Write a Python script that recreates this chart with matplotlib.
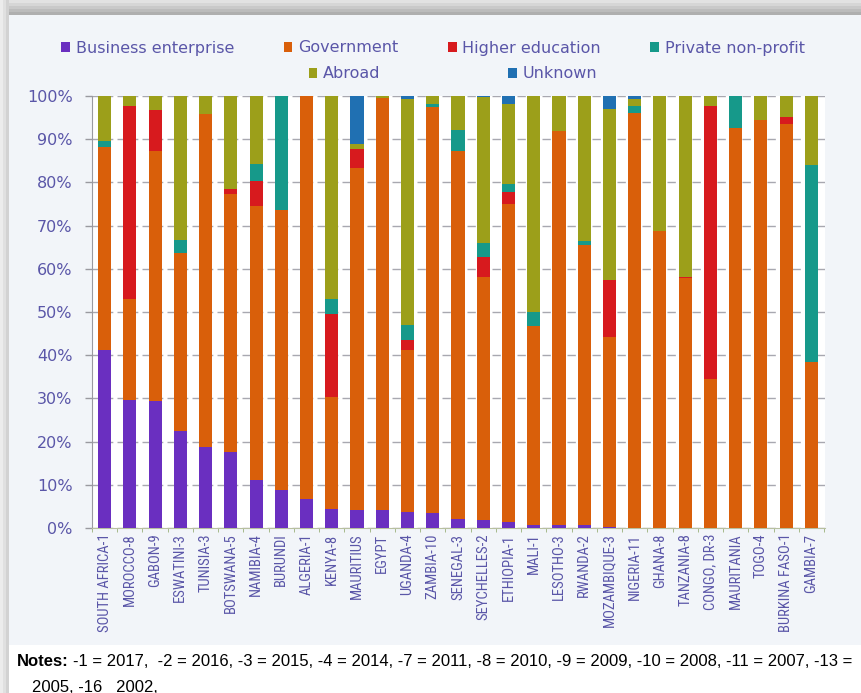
import matplotlib.pyplot as plt
import numpy as np
from matplotlib.patches import Patch, Rectangle
from matplotlib import font_manager

countries = ["SOUTH AFRICA-1", "MOROCCO-8", "GABON-9", "ESWATINI-3", "TUNISIA-3",
             "BOTSWANA-5", "NAMIBIA-4", "BURUNDI", "ALGERIA-1", "KENYA-8",
             "MAURITIUS", "EGYPT", "UGANDA-4", "ZAMBIA-10", "SENEGAL-3",
             "SEYCHELLES-2", "ETHIOPIA-1", "MALI-1", "LESOTHO-3", "RWANDA-2",
             "MOZAMBIQUE-3", "NIGERIA-11", "GHANA-8", "TANZANIA-8", "CONGO, DR-3",
             "MAURITANIA", "TOGO-4", "BURKINA FASO-1", "GAMBIA-7"]

# shares in %
business = [41.2, 29.7, 29.3, 22.5, 18.7, 17.5, 11.2, 8.9, 6.7, 4.4, 4.2, 4.2, 3.7, 3.5,
            2.1, 1.9, 1.4, 0.8, 0.7, 0.6, 0.2, 0, 0, 0, 0, 0, 0, 0, 0]
government = [46.9, 23.3, 57.9, 41.2, 77.2, 59.9, 63.3, 64.8, 93.3, 26.0, 79.2, 95.4, 37.5,
              94.0, 85.2, 56.1, 73.5, 46.0, 91.2, 64.9, 43.9, 96.1, 68.7, 57.8, 34.5,
              92.7, 94.5, 93.6, 38.5]
higher_edu = [0, 44.8, 9.6, 0, 0, 1.0, 5.8, 0, 0, 19.1, 4.3, 0, 2.3, 0, 0, 4.8, 2.9, 0, 0,
              0, 13.3, 0, 0, 0.4, 63.3, 0, 0, 1.5, 0]
private_np = [1.5, 0, 0, 2.9, 0, 0, 3.9, 26.3, 0, 3.4, 0, 0, 3.6, 0.7, 4.8, 3.2, 1.8, 3.3,
              0, 0.9, 0, 1.7, 0, 0, 0, 7.3, 0, 0, 45.5]
abroad = [10.4, 2.2, 3.2, 33.4, 4.1, 21.6, 15.8, 0, 0, 47.1, 1.3, 0.4, 52.1, 1.8, 7.9,
          33.8, 18.6, 49.9, 8.1, 33.6, 39.5, 1.4, 31.3, 41.8, 2.2, 0, 5.5, 4.9, 16.0]
unknown = [0, 0, 0, 0, 0, 0, 0, 0, 0, 0, 11.0, 0, 0.8, 0, 0, 0.2, 1.8, 0, 0, 0, 3.1, 0.8,
           0, 0, 0, 0, 0, 0, 0]

series = [("Business enterprise", business, "#6a2fc0"),
          ("Government", government, "#d95f0a"),
          ("Higher education", higher_edu, "#d71a1e"),
          ("Private non-profit", private_np, "#16998a"),
          ("Abroad", abroad, "#9c9f1a"),
          ("Unknown", unknown, "#2070b2")]

txt = "#5a56a8"
W, H = 862, 693

# pick a narrow face if one is around
installed = {f.name for f in font_manager.fontManager.ttflist}
narrow = None
for fam in ["Liberation Sans Narrow", "DejaVu Sans Condensed", "Roboto Condensed",
            "Open Sans Condensed", "Noto Sans Condensed"]:
    if fam in installed:
        narrow = fam
        break
narrow_fams = [narrow, "DejaVu Sans"] if narrow else ["DejaVu Sans"]
xlab_size = 10.5 if narrow else 8.6
note_fams = ["Liberation Sans", "DejaVu Sans"]

fig = plt.figure(figsize=(W / 100, H / 100), dpi=100)
fig.patch.set_facecolor("white")

def px_rect(x0, y0, x1, y1, color):
    fig.add_artist(Rectangle((x0 / W, 1 - y1 / H), (x1 - x0) / W, (y1 - y0) / H,
                             transform=fig.transFigure, facecolor=color,
                             edgecolor="none", zorder=-10))

# screenshot shadow + panel
for i, c in enumerate(["#e2e2e2", "#d6d6d6", "#c9c9c9", "#bcbcbc", "#afafaf"]):
    px_rect(0, i * 3, W, 15, c)
for i, c in enumerate(["#ececec", "#e0e0e0", "#d2d2d2"]):
    px_rect(i * 3, 0, 9, H, c)
px_rect(9, 15, W, 645, "#f2f5f9")

ax = fig.add_axes([92 / W, 1 - 528 / H, (825 - 92) / W, (528 - 96) / H])
ax.set_facecolor("white")
x = np.arange(len(countries))
bottom = np.zeros(len(countries))
for name, vals, col in series:
    ax.bar(x, vals, 0.52, bottom=bottom, color=col, label=name, zorder=3)
    bottom += np.array(vals)

ax.set_xlim(-0.45, len(countries) - 0.46)
ax.set_ylim(0, 100)
ax.set_yticks(np.arange(0, 101, 10))
ax.set_yticklabels([f"{v}%" for v in range(0, 101, 10)])
ax.yaxis.grid(True, linestyle=(0, (6, 3)), color="#a8a8b0", linewidth=1, zorder=0)
ax.set_xticks(x)
ax.set_xticklabels(countries, rotation=90, family=narrow_fams,
                   fontsize=xlab_size, color=txt)
ax.set_xticks(np.arange(-0.5, len(countries), 1), minor=True)
for s in ["top", "right"]:
    ax.spines[s].set_visible(False)
ax.spines["left"].set_color("#9a9aa0")
ax.spines["bottom"].set_color("#b8c0a0")
ax.tick_params(axis="y", direction="out", length=5, width=1, color="#9a9aa0", pad=9,
               labelsize=11.5, labelcolor=txt)
ax.tick_params(axis="x", which="major", length=0, pad=4)
ax.tick_params(axis="x", which="minor", length=3, color="#9ab07a")

handles = [Patch(facecolor=c, label=n) for n, _, c in series]
leg_kw = dict(frameon=False, handlelength=0.55, handleheight=0.55, handletextpad=0.35,
              fontsize=11.5, labelcolor=txt)
fig.legend(handles=handles[:4], loc="center", bbox_to_anchor=(433 / W, 1 - 48 / H),
           ncol=4, columnspacing=3.1, **leg_kw)
fig.legend(handles=handles[4:], loc="center", bbox_to_anchor=(453 / W, 1 - 74 / H),
           ncol=2, columnspacing=8.0, **leg_kw)

# notes under the panel: bold lead-in, then the rest right after it
t0 = fig.text(17 / W, 1 - 661 / H, "Notes:", fontsize=12, fontweight="bold",
              family=note_fams, va="center")
fig.canvas.draw()
bb = t0.get_window_extent()
fig.text(bb.x1 / W + 4 / W, 1 - 661 / H,
         "-1 = 2017,  -2 = 2016, -3 = 2015, -4 = 2014, -7 = 2011, -8 = 2010, -9 = 2009, "
         "-10 = 2008, -11 = 2007, -13 =", fontsize=12,
         family=note_fams, va="center")
fig.text(32 / W, 1 - 687 / H, "2005, -16   2002,", fontsize=12,
         family=note_fams, va="center")

fig.savefig("out.png", dpi=100)
